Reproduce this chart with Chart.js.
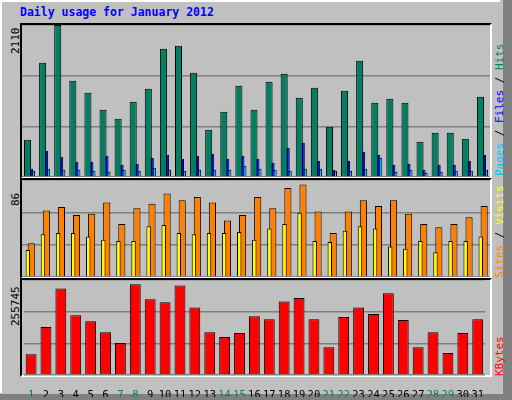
<!DOCTYPE html>
<html>
<head>
<meta charset="utf-8">
<script src="https://cdn.jsdelivr.net/npm/chart.js@4"></script>
<style>
  body { margin: 0; width: 512px; height: 400px; background: #c0c0c0; position: relative; overflow: hidden;
         font-family: 'DejaVu Sans Mono', monospace; }
  .outer { position: absolute; left: 0; top: 0; width: 500px; height: 393px; border-left: 2px solid #fff; border-top: 2px solid #fff; box-sizing: border-box; }
  .rstrip { position: absolute; left: 503px; top: 0; width: 9px; height: 400px; background: #808080; }
  .bstrip { position: absolute; left: 0; top: 394px; width: 512px; height: 6px; background: #808080; }
  .title { position: absolute; left: 20px; top: 5px; font-size: 11.5px; font-weight: bold; color: #0000ff; }
  .frame { position: absolute; box-sizing: border-box; border-top: 2px solid #000; border-left: 2px solid #000; border-right: 2px solid #fff; border-bottom: 2px solid #fff; }
  canvas { position: absolute; }
  .vl { position: absolute; transform: rotate(-90deg); transform-origin: left top; font-size: 11px; white-space: nowrap; }
</style>
</head>
<body>
<div class="outer"></div>
<div class="rstrip"></div>
<div class="bstrip"></div>
<div class="title">Daily usage for January 2012</div>

<div class="frame" style="left:20px;top:23px;width:472px;height:156px"></div>
<div class="frame" style="left:20px;top:178px;width:472px;height:101px"></div>
<div class="frame" style="left:20px;top:278px;width:472px;height:99px"></div>

<div style="position:absolute;left:22px;top:25px;width:468px;height:152px"><canvas id="c1"></canvas></div>
<div style="position:absolute;left:22px;top:180px;width:468px;height:97px"><canvas id="c2"></canvas></div>
<div style="position:absolute;left:22px;top:280px;width:468px;height:117px"><canvas id="c3"></canvas></div>

<div class="vl" style="left:9px;top:54px">2110</div>
<div class="vl" style="left:9px;top:206px">86</div>
<div class="vl" style="left:9px;top:326px">255745</div>

<div class="vl" style="left:493px;top:176px"><span style="color:#00c0ff">Pages</span> / <span style="color:#0000ff">Files</span> / <span style="color:#008060">Hits</span></div>
<div class="vl" style="left:493px;top:278px"><span style="color:#ff8000">Sites</span> / <span style="color:#ffff00">Visits</span></div>
<div class="vl" style="left:493px;top:376px"><span style="color:#ff0000">KBytes</span></div>

<script>
const days = ['1','2','3','4','5','6','7','8','9','10','11','12','13','14','15','16',
              '17','18','19','20','21','22','23','24','25','26','27','28','29','30','31'];
const weekend = ['1','7','8','14','15','21','22','28','29'];
const hits = [518,1587,2110,1337,1171,935,810,1046,1226,1781,1823,1448,657,907,1268,935,
              1323,1434,1101,1240,699,1198,1615,1032,1087,1032,490,615,615,532,1115];
const files = [116,365,282,213,213,296,171,185,268,310,254,296,324,254,296,254,
               199,407,477,227,102,227,352,310,171,185,102,171,171,227,310];
const pages = [88,116,102,102,88,74,102,88,130,102,88,102,102,102,157,116,
               102,88,116,116,88,88,116,268,74,102,60,74,88,88,102];
const visits = [30,59,62,55,56,66,47,61,65,74,68,71,66,50,55,71,
                61,79,82,58,39,58,68,63,68,56,47,44,47,53,63];
const sites = [24,38,39,39,36,33,32,32,45,46,39,38,39,39,40,33,
               43,47,57,32,31,41,45,43,27,25,32,22,32,32,36];
const kbytes = [56000,129000,233000,161000,145000,115000,86000,244000,204000,196000,241000,182000,115000,102000,113000,158000,
                150000,198000,207000,150000,75000,156000,182000,164000,220000,148000,75000,115000,59000,113000,150000];

function yAxis(max) {
    return {
        min: 0, max: max,
        ticks: { display: false, stepSize: max / 3 },
        grid: { color: '#808080', drawTicks: false, lineWidth: 1.5 },
        border: { display: false }
    };
}
const hiddenX = { display: false, offset: true };
const base = {
    responsive: true,
    maintainAspectRatio: false,
    animation: false,
    layout: { padding: 0 },
    plugins: { legend: { display: false }, tooltip: { enabled: false } }
};
// higher order is painted later (on top) here
function ds(data, color, order, extra) {
    return Object.assign({ data: data, backgroundColor: color, borderColor: '#000', borderWidth: 1, order: order }, extra || {});
}

new Chart(document.getElementById('c1'), {
    type: 'bar',
    data: {
        labels: days,
        datasets: [
            ds(hits, '#008060', 1),
            ds(files, '#0000ff', 2),
            ds(pages, '#00c0ff', 3)
        ]
    },
    options: Object.assign({}, base, {
        datasets: { bar: { categoryPercentage: 0.4, barPercentage: 3.5 } },
        scales: { x: hiddenX, y: yAxis(2110) }
    })
});

new Chart(document.getElementById('c2'), {
    type: 'bar',
    data: {
        labels: days,
        datasets: [
            ds(sites, '#ffff00', 1, { barPercentage: 1.3 }),
            ds(visits, '#ff8000', 2, { barPercentage: 2.1 })
        ]
    },
    options: Object.assign({}, base, {
        datasets: { bar: { categoryPercentage: 0.45 } },
        scales: { x: hiddenX, y: yAxis(86) }
    })
});

new Chart(document.getElementById('c3'), {
    type: 'bar',
    data: { labels: days, datasets: [ds(kbytes, '#ff0000', 1)] },
    options: Object.assign({}, base, {
        datasets: { bar: { categoryPercentage: 0.73, barPercentage: 1 } },
        scales: {
            x: {
                offset: true,
                grid: { display: false },
                border: { display: false },
                afterFit: function(s) { s.height = 22; },
                ticks: {
                    maxRotation: 0, autoSkip: false, padding: 6,
                    font: { family: "'DejaVu Sans Mono', monospace", size: 10.5 },
                    color: function(c) { return weekend.includes(days[c.index]) ? '#008060' : '#000'; }
                }
            },
            y: yAxis(255745)
        }
    })
});
</script>
</body>
</html>
